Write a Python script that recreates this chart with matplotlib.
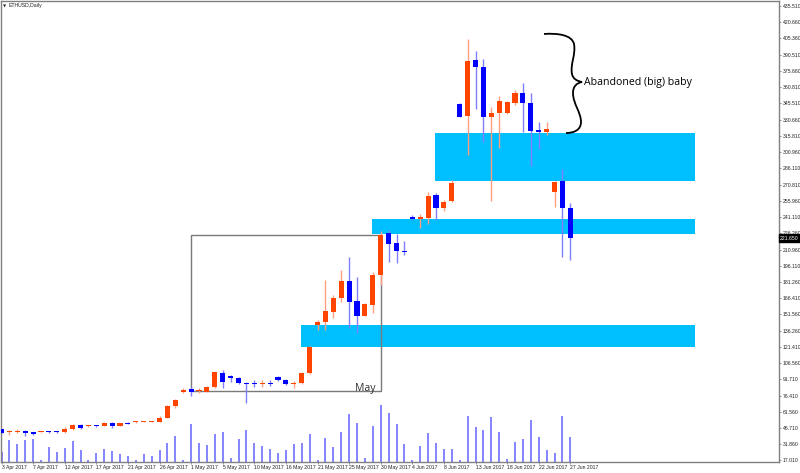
import matplotlib
matplotlib.use("Agg")
import matplotlib.pyplot as plt
from matplotlib.patches import Rectangle, PathPatch
from matplotlib.path import Path
from matplotlib.transforms import Affine2D, ScaledTranslation

# ---------------- data ----------------
x_labels = ["3 Apr 2017", "7 Apr 2017", "12 Apr 2017", "17 Apr 2017", "21 Apr 2017",
            "26 Apr 2017", "1 May 2017", "5 May 2017", "10 May 2017", "16 May 2017",
            "21 May 2017", "25 May 2017", "30 May 2017", "4 Jun 2017", "8 Jun 2017",
            "13 Jun 2017", "18 Jun 2017", "22 Jun 2017", "27 Jun 2017"]

opens = [45.8, 42.8, 42.7, 44.3, 42.7, 42.7, 43.3, 43.6, 42.8, 45.5,
         49.5, 48.3, 48.9, 48.6, 51.6, 48.6, 51.6, 52.0, 52.3, 52.4,
         52.6, 55.9, 67.0, 79.6, 82.6, 81.1, 80.1, 84.1, 97.7, 94.6,
         93.1, 88.1, 87.8, 86.9, 87.8, 93.7, 91.2, 87.2, 87.8, 97.0,
         141.5, 144.0, 153.8, 166.1, 182.1, 163.6, 150.1, 160.0, 187.6, 226.0,
         216.7, 209.9, 240.6, 239.1, 240.3, 261.2, 249.0, 256.0, 345.0, 334.0,
         385.5, 379.4, 333.3, 336.4, 336.4, 345.6, 355.4, 346.2, 321.1, 319.5,
         264.3, 274.4, 248.9]
highs = [46.2, 44.9, 46.1, 44.9, 43.3, 43.5, 44.0, 44.0, 48.0, 50.4,
         50.1, 49.2, 49.3, 52.0, 52.0, 51.6, 52.0, 52.9, 53.6, 53.6,
         57.8, 67.5, 73.1, 83.3, 84.8, 83.9, 85.4, 98.6, 99.8, 95.5,
         94.0, 89.4, 90.9, 90.9, 90.9, 94.3, 91.8, 90.0, 98.6, 122.2,
         146.2, 183.0, 169.2, 192.2, 204.5, 186.0, 161.5, 190.6, 228.0, 229.0,
         225.0, 219.2, 242.8, 243.7, 263.7, 262.8, 256.6, 275.0, 346.2, 404.5,
         393.8, 386.4, 342.5, 352.4, 347.8, 357.9, 364.0, 355.4, 328.1, 328.1,
         273.8, 284.9, 254.1]
lows = [42.0, 40.3, 41.8, 39.7, 40.6, 42.5, 41.8, 42.5, 42.6, 45.0,
        45.8, 48.0, 48.0, 48.3, 46.4, 48.3, 50.0, 51.7, 52.0, 52.0,
        52.3, 55.5, 65.5, 78.7, 76.5, 78.6, 79.6, 83.5, 83.8, 89.4,
        86.9, 69.4, 84.8, 84.8, 85.4, 90.3, 86.3, 83.2, 87.5, 96.5,
        136.9, 137.0, 147.7, 163.0, 139.1, 133.9, 149.8, 152.3, 178.4, 199.9,
        199.0, 206.0, 238.2, 230.5, 234.2, 238.2, 246.5, 255.1, 332.7, 298.0,
        340.1, 310.3, 256.0, 304.2, 336.0, 344.1, 319.5, 287.9, 303.3, 316.5,
        250.5, 203.8, 201.4]
closes = [42.4, 43.3, 44.0, 41.8, 41.2, 43.3, 42.7, 42.8, 46.1, 49.8,
          46.7, 48.9, 48.3, 51.6, 48.6, 51.3, 50.4, 52.6, 53.2, 53.2,
          56.2, 67.0, 72.2, 82.0, 80.1, 81.7, 84.7, 98.0, 88.8, 93.1,
          87.8, 87.2, 87.2, 87.8, 87.2, 90.9, 86.9, 88.1, 97.7, 121.6,
          144.6, 154.4, 166.1, 182.4, 163.0, 150.1, 160.6, 187.6, 224.4, 215.8,
          209.8, 209.0, 239.1, 240.6, 260.6, 249.0, 255.1, 271.9, 333.3, 384.6,
          379.4, 333.3, 336.4, 347.8, 346.5, 355.4, 346.2, 320.5, 319.5, 321.7,
          273.5, 248.9, 221.65]
volumes = [10, 22, 17.7, 21.7, 22.7, 2, 14.7, 10, 13.7, 21.4,
           11.7, 2, 8.7, 13.4, 11.4, 8, 6, 2, 8, 6.4,
           11.7, 18.7, 25.7, 2, 38, 19, 17, 28.4, 30, 4.4,
           22.7, 31.7, 18.7, 16, 12.7, 9, 12.4, 17.7, 19.4, 28.4,
           2, 24.4, 15, 30.4, 47.7, 39.4, 4.4, 36, 56.7, 49,
           38.4, 18.4, 1.7, 15.7, 29.4, 19.4, 13, 13.4, 2.4, 45.7,
           34.7, 31.7, 45, 30.4, 2.7, 20, 22.7, 41.7, 25.4, 12,
           8.7, 46, 25.4]
y_ticks = [17.010, 31.860, 46.710, 61.560, 76.410, 91.710, 106.560, 121.410, 136.260,
           151.560, 166.410, 181.260, 196.110, 210.960, 226.260, 241.110, 255.960,
           270.810, 286.110, 300.960, 315.810, 330.660, 345.510, 360.810, 375.660,
           390.510, 405.360, 420.660, 435.510]
last_price = 221.650

# zones: (start bar, end bar, low price, high price)
zones_start = [54.9, 46.9, 37.9]
zones_end = [87.8, 87.8, 87.8]
zones_low = [274.5, 225.3, 121.0]
zones_high = [318.7, 239.1, 141.5]
may_box = (24.0, 48.0, 80.8, 224.4)

# ---------------- figure ----------------
W, H = 800, 473
fig = plt.figure(figsize=(W / 100, H / 100), dpi=100)
L, R, T, B = 0.5, 779.0, 1.0, 462.0
ax = fig.add_axes([L / W, (H - B) / H, (R - L) / W, (B - T) / H])

BAR_PX = 7.9
X0_PX = 1.5
PPX = 0.9206          # price per pixel
TOP_PRICE = 440.76    # price at pixel row 0
ax.set_xlim((L - X0_PX) / BAR_PX, (R - X0_PX) / BAR_PX)
ax.set_ylim(TOP_PRICE - PPX * B, TOP_PRICE - PPX * T)
ybot = TOP_PRICE - PPX * B

ORANGE, BLUE = "#ff4500", "#0000ff"
ORANGE_W, BLUE_W = "#ff9f80", "#7f7fff"

# zones
for s, e, lo, hi in zip(zones_start, zones_end, zones_low, zones_high):
    ax.add_patch(Rectangle((s, lo), e - s, hi - lo, facecolor="#00bfff",
                           edgecolor="none", zorder=1))
bx0, bx1, by0, by1 = may_box
ax.add_patch(Rectangle((bx0, by0), bx1 - bx0, by1 - by0, facecolor="none",
                       edgecolor="#7a7a7a", lw=1.0, zorder=1.5))

# volumes
for i, v in enumerate(volumes):
    ax.vlines(i, ybot, ybot + v * PPX, color="#8484ff", lw=1.4, zorder=2)

# candles
for i, (o, h, l, c) in enumerate(zip(opens, highs, lows, closes)):
    bull = c >= o
    ax.vlines(i, l, h, color=ORANGE_W if bull else BLUE_W, lw=1.0, zorder=3)
    ax.bar(i, max(abs(c - o), 0.9), bottom=min(o, c), width=0.64,
           color=ORANGE if bull else BLUE, lw=0, zorder=4)

# axes styling
for sp in ax.spines.values():
    sp.set_color("#808080")
    sp.set_linewidth(1.0)
ax.yaxis.tick_right()
ax.set_yticks(y_ticks)
ax.set_yticklabels([f"{v:.3f}" for v in y_ticks])
ax.tick_params(axis="y", length=1.5, width=0.6, colors="#808080", pad=1,
               labelsize=3.7, labelcolor="#222222")
ax.set_xticks(range(0, 73, 4))
ax.set_xticklabels(x_labels)
ax.tick_params(axis="x", length=1.5, width=0.6, colors="#808080", pad=0.6,
               labelsize=3.7, labelcolor="#222222")
for lab in ax.get_xticklabels():
    lab.set_horizontalalignment("left")
    lab.set_fontfamily("Liberation Sans")
for lab in ax.get_yticklabels():
    lab.set_fontfamily("Liberation Sans")

# current price label
ax.text(1.0015, last_price, f"{last_price:.3f}", transform=ax.get_yaxis_transform(),
        ha="left", va="center", fontsize=3.7, color="white", family="Liberation Sans",
        bbox=dict(boxstyle="square,pad=0.25", facecolor="black", edgecolor="black"),
        zorder=10, clip_on=False)

# pixel transform (origin top-left)
pix = Affine2D().scale(1 / W, -1 / H).translate(0, 1) + fig.transFigure

fig.text(5, 6, "\u25bc", transform=pix, fontsize=3, ha="center", va="center", color="#333333")
fig.text(9, 6, "ETHUSD,Daily", transform=pix, fontsize=3.7, ha="left", va="center",
         color="#222222", family="Liberation Sans")

# annotation brace
verts = [(544, 34),
         (558, 33), (572, 35), (574, 44),
         (576, 55), (570, 64), (572, 74),
         (573, 79), (577, 81), (582, 82),
         (577, 83), (573, 86), (573, 93),
         (573, 104), (581, 112), (581, 122),
         (581, 130), (574, 133), (566, 133)]
codes = [Path.MOVETO] + [Path.CURVE4] * 18
fig.patches.append(PathPatch(Path(verts, codes), transform=pix, facecolor="none",
                             edgecolor="black", lw=1.3))
fig.text(584, 83, "Abandoned (big) baby", transform=pix, fontsize=7.6, ha="left",
         va="center", color="black", family="Open Sans")
fig.text(355, 388, "May", transform=pix, fontsize=7.6, ha="left", va="center",
         color="#333333", family="Open Sans")

fig.savefig("out.png", dpi=100)
